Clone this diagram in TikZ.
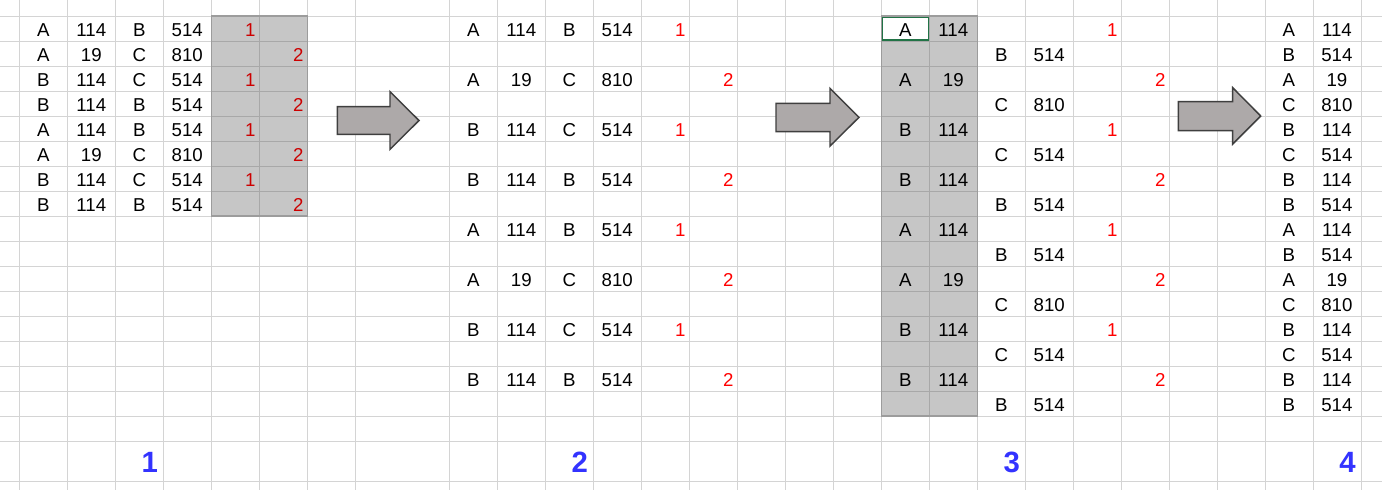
\documentclass[tikz,border=0pt]{standalone}
\usepackage{fontspec}
\setmainfont{Liberation Sans}
\definecolor{gridc}{HTML}{D4D4D4}
\definecolor{shadec}{HTML}{C6C6C6}
\definecolor{shadegridc}{HTML}{A8A8A8}
\definecolor{shadeborderc}{HTML}{9C9C9C}
\definecolor{redA}{HTML}{CC0000}
\definecolor{redB}{HTML}{FF0000}
\definecolor{bluec}{HTML}{3333FF}
\definecolor{arrowfill}{HTML}{ADA9A9}
\definecolor{arrowdraw}{HTML}{3F3F3F}
\definecolor{selgreen}{HTML}{217346}
\begin{document}
\begin{tikzpicture}[x=0.75pt,y=-0.75pt,
  gridline/.style={draw=gridc,line width=0.75pt},
  shadearea/.style={fill=shadec},
  shadegrid/.style={draw=shadegridc,line width=0.75pt},
  shadeborder/.style={draw=shadeborderc,line width=0.9pt},
  ct/.style={anchor=base,inner sep=0pt,font=\fontsize{14}{16}\selectfont},
  rt/.style={anchor=base east,inner sep=0pt,font=\fontsize{14}{16}\selectfont},
  lbl/.style={anchor=base east,inner sep=0pt,text=bluec,font=\fontsize{22}{26}\selectfont\bfseries},
  bigarrow/.style={fill=arrowfill,draw=arrowdraw,line width=1.1pt,line join=miter}]
\useasboundingbox (0,0) rectangle (1382,490);
\fill[white] (0,0) rectangle (1382,490);
% grid
\foreach \i in {0,...,7} \draw[gridline] ({19.3+48*\i},0) -- ({19.3+48*\i},490);
\foreach \i in {0,...,19} \draw[gridline] ({449.3+48*\i},0) -- ({449.3+48*\i},490);
\foreach \j in {0,...,17} \draw[gridline] (0,{16+25*\j}) -- (1382,{16+25*\j});
\draw[gridline] (0,481) -- (1382,481);
% panel 1 shading
\fill[shadearea] (211.3,16) rectangle (307.3,216);
\draw[shadegrid] (259.3,16) -- (259.3,216);
\foreach \j in {1,...,7} \draw[shadegrid] (211.3,{16+25*\j}) -- (307.3,{16+25*\j});
\draw[shadeborder] (211.3,16) rectangle (307.3,216);
% panel 3 shading
\fill[shadearea] (881.3,16) rectangle (977.3,416);
\draw[shadegrid] (929.3,16) -- (929.3,416);
\foreach \j in {1,...,15} \draw[shadegrid] (881.3,{16+25*\j}) -- (977.3,{16+25*\j});
\draw[shadeborder] (881.3,16) rectangle (977.3,416);
\filldraw[fill=white,draw=selgreen,line width=0.9pt] (882.8,17.5) rectangle (928.3,40);
% panel 1 text
\foreach \a/\b/\c/\d/\r [count=\k from 0] in {A/114/B/514/1,A/19/C/810/2,B/114/C/514/1,B/114/B/514/2,A/114/B/514/1,A/19/C/810/2,B/114/C/514/1,B/114/B/514/2}{
  \pgfmathsetmacro\yb{36+25*\k}
  \pgfmathsetmacro\xr{259.3+48*(\r-1)-3.5}
  \node[ct] (pa\k) at (43.3,\yb) {\a};
  \node[ct] (pb\k) at (91.3,\yb) {\b};
  \node[ct] (pc\k) at (139.3,\yb) {\c};
  \node[ct] (pd\k) at (187.3,\yb) {\d};
  \node[rt,text=redA] (pr\k) at (\xr,\yb) {\r};
}
% panel 2 text
\foreach \a/\b/\c/\d/\r [count=\k from 0] in {A/114/B/514/1,A/19/C/810/2,B/114/C/514/1,B/114/B/514/2,A/114/B/514/1,A/19/C/810/2,B/114/C/514/1,B/114/B/514/2}{
  \pgfmathsetmacro\yb{36+50*\k}
  \pgfmathsetmacro\xr{689.3+48*(\r-1)-3.5}
  \node[ct] (qa\k) at (473.3,\yb) {\a};
  \node[ct] (qb\k) at (521.3,\yb) {\b};
  \node[ct] (qc\k) at (569.3,\yb) {\c};
  \node[ct] (qd\k) at (617.3,\yb) {\d};
  \node[rt,text=redB] (qr\k) at (\xr,\yb) {\r};
}
% panel 3 and 4 text
\foreach \a/\b/\c/\d/\r [count=\k from 0] in {A/114/B/514/1,A/19/C/810/2,B/114/C/514/1,B/114/B/514/2,A/114/B/514/1,A/19/C/810/2,B/114/C/514/1,B/114/B/514/2}{
  \pgfmathsetmacro\yb{36+50*\k}
  \pgfmathsetmacro\yc{61+50*\k}
  \pgfmathsetmacro\xr{1121.3+48*(\r-1)-3.5}
  \node[ct] (sa\k) at (905.3,\yb) {\a};
  \node[ct] (sb\k) at (953.3,\yb) {\b};
  \node[ct] (sc\k) at (1001.3,\yc) {\c};
  \node[ct] (sd\k) at (1049.3,\yc) {\d};
  \node[rt,text=redB] (sr\k) at (\xr,\yb) {\r};
  \node[ct] (ta\k) at (1288.9,\yb) {\a};
  \node[ct] (tb\k) at (1336.9,\yb) {\b};
  \node[ct] (tc\k) at (1288.9,\yc) {\c};
  \node[ct] (td\k) at (1336.9,\yc) {\d};
}
% arrows
\draw[bigarrow] (337.3,106.7) -- (390,106.7) -- (390,91.7) -- (419,120.5) -- (390,149.3) -- (390,134.3) -- (337.3,134.3) -- cycle;
\draw[bigarrow] (776,103.3) -- (830,103.3) -- (830,88.3) -- (859,117.3) -- (830,146) -- (830,131.7) -- (776,131.7) -- cycle;
\draw[bigarrow] (1178.3,101.7) -- (1232.7,101.7) -- (1232.7,87.7) -- (1260.7,116) -- (1232.7,144) -- (1232.7,130.7) -- (1178.3,130.7) -- cycle;
% bottom labels
\node[lbl] (l1) at (158.3,472.7) {1};
\node[lbl] (l2) at (588.3,472.7) {2};
\node[lbl] (l3) at (1020.3,472.7) {3};
\node[lbl] (l4) at (1356,472.7) {4};
\end{tikzpicture}
\end{document}
